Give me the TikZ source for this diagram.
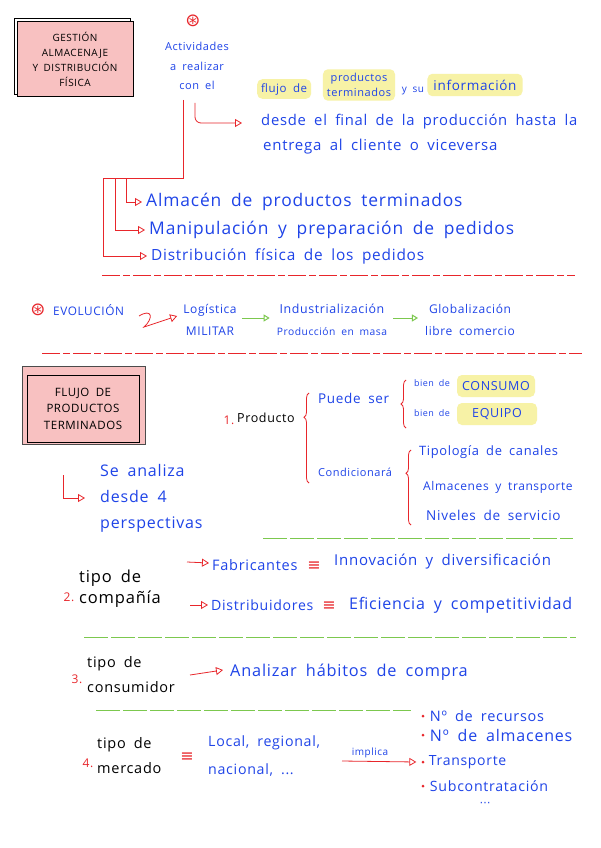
\documentclass[tikz,border=0pt]{standalone}
\usepackage{fontspec}
\setmainfont[LetterSpace=5,WordSpace=1.8]{Open Sans}
\newfontfamily\symfont{DejaVu Sans}
\definecolor{Ink}{HTML}{1F44E8}
\definecolor{Pen}{HTML}{E8262B}
\definecolor{Leaf}{HTML}{7CC84E}
\definecolor{Marker}{HTML}{F7F2A6}
\definecolor{Blush}{HTML}{F8C1C1}
\usetikzlibrary{arrows.meta,positioning,decorations.pathreplacing}

\begin{document}
\begin{tikzpicture}[x=1pt,y=-1pt,
  fs/.style 2 args={font=\fontsize{#1}{#2}\selectfont},
  note/.style={text=Ink,inner sep=1pt},
  hand/.style={text=black,inner sep=1pt},
  num/.style={text=Pen,inner sep=1pt,fs={12}{14}},
  hilite/.style={fill=Marker,rounded corners=5pt,inner sep=4pt},
  titlebox/.style={draw=black,line width=1pt,fill=Blush,align=center},
  penline/.style={draw=Pen,line width=.8pt},
  penarrow/.style={penline,-{Triangle[open,length=7pt,width=8pt]}},
  leafarrow/.style={draw=Leaf,line width=1pt,-{Triangle[open,length=6pt,width=7pt]}},
  redcut/.style={draw=Pen,line width=.6pt,dash pattern=on 18pt off 3pt on 7pt off 3pt},
  greencut/.style={draw=Leaf,line width=1pt,dash pattern=on 24pt off 3pt},
  bracepen/.style={penline,decorate,decoration={brace,amplitude=5pt,aspect=#1}},
  dotpen/.style={circle,fill=Pen,inner sep=0pt,minimum size=3pt},
  same/.style={text=Pen,font=\symfont\fontsize{16}{16}\selectfont,inner sep=0pt},
  asterisk/.style={text=Pen,font=\symfont\fontsize{18}{18}\selectfont,inner sep=0pt}
]
\useasboundingbox[fill=white] (0,0) rectangle (600,848);

\draw[line width=1pt] (14,19) rectangle (130,95);
\node[titlebox,fs={10}{15},minimum width=116pt,minimum height=75pt] (gestion) at (75,59.5)
  {GESTIÓN\\ALMACENAJE\\Y DISTRIBUCIÓN\\FÍSICA};
\node[asterisk] (star1) at (193,21) {⊛};
\node[note,fs={11}{19.5},align=center] (activ) at (197,66) {Actividades\\a realizar\\con el};

\node[note,hilite,fs={11.5}{14},anchor=west] (flujo) at (257,89) {flujo de};
\node[note,hilite,fs={11}{15},align=center] (prodterm) at (359,85) {productos\\terminados};
\node[note,fs={10}{12}] (ysu) at (413,91) {y su};
\node[note,hilite,fs={13.5}{16},inner sep=6pt] (info) at (475,85) {información};
\node[note,fs={14.8}{16},anchor=west] (desde) at (260,122) {desde el final de la producción hasta la};
\node[note,fs={15}{16},anchor=west] (entrega) at (262,147) {entrega al cliente o viceversa};

\coordinate (drop) at (183,100);
\coordinate (fork) at (183,178);
\coordinate (b1) at (126,178);
\coordinate (b2) at (115,178);
\coordinate (b3) at (103,178);
\coordinate (hook) at (195,103);
\draw[penline] (drop) -- (fork) -- (b3);
\draw[penarrow,rounded corners=6pt] (hook) |- ([xshift=-18pt,yshift=-1pt]desde.west);

\node[note,fs={17.4}{18},anchor=west] (almacen) at (145,202) {Almacén de productos terminados};
\node[note,fs={17.4}{18},anchor=west] (manip) at (148,230) {Manipulación y preparación de pedidos};
\node[note,fs={15.4}{18},anchor=west] (distrib) at (150,256) {Distribución física de los pedidos};
\draw[penarrow] (b1) |- ([xshift=-3pt]almacen.west);
\draw[penarrow] (b2) |- ([xshift=-3pt]manip.west);
\draw[penarrow] (b3) |- ([xshift=-3pt]distrib.west);

\coordinate (cut1a) at (102,275);
\coordinate (cut1b) at (575,275);
\draw[redcut] (cut1a) -- (cut1b);

\node[asterisk] (star2) at (38,310) {⊛};
\node[note,fs={11.8}{14},anchor=west] (evol) at (52,310) {EVOLUCIÓN};
\node[note,fs={12}{22},align=center] (logis) at (210,320) {Logística\\MILITAR};
\node[note,fs={10.3}{22},align=center] (indus) at (332,320) {{\fontsize{12.4}{22}\selectfont Industrialización}\\Producción en masa};
\node[note,fs={12}{22},align=center] (glob) at (470,320) {Globalización\\libre comercio};
\coordinate (zig) at (139,316);
\draw[penarrow] (zig) .. controls (152,308) and (154,318) .. (144,327) -- ([xshift=-5pt,yshift=4pt]logis.west);
\draw[leafarrow] ([xshift=4pt,yshift=2pt]logis.east) -- ([xshift=-6pt,yshift=2pt]indus.west);
\draw[leafarrow] ([xshift=5pt,yshift=2pt]indus.east) -- ([xshift=-6pt,yshift=2pt]glob.west);

\coordinate (cut2a) at (42,353);
\coordinate (cut2b) at (582,353);
\draw[redcut] (cut2a) -- (cut2b);

\draw[draw=black!70,fill=Blush,line width=.6pt] (22,366) rectangle (145,444);
\node[draw=black,line width=1pt,align=center,fs={11.5}{16.5},minimum width=112pt,minimum height=67pt] (flujobox) at (83,408.5)
  {FLUJO DE\\PRODUCTOS\\TERMINADOS};

\node[num] (n1) at (229,420) {1.};
\node[hand,fs={12.5}{14},anchor=west] (producto) at (236,418) {Producto};
\draw[bracepen=.73] (309,483) -- (309,393);
\node[note,fs={13.5}{14},anchor=west] (puede) at (317,398) {Puede ser};
\draw[bracepen=.5] (406,428) -- (406,380);
\node[note,fs={9}{12},anchor=west] (bien1) at (413,383) {bien de};
\node[note,hilite,fs={12.5}{14},minimum width=78pt,minimum height=22pt] (consumo) at (496,386) {CONSUMO};
\node[note,fs={9}{12},anchor=west] (bien2) at (413,413) {bien de};
\node[note,hilite,fs={12.5}{14},minimum width=80pt,minimum height=22pt] (equipo) at (497,414) {EQUIPO};
\node[note,fs={11}{14},anchor=west] (condic) at (317,472) {Condicionará};
\draw[bracepen=.69] (411,525) -- (411,450);
\node[note,fs={12.9}{14},anchor=west] (tipolog) at (418,452) {Tipología de canales};
\node[note,fs={12}{14},anchor=west] (almtrans) at (422,487) {Almacenes y transporte};
\node[note,fs={13.6}{14},anchor=west] (niveles) at (425,515) {Niveles de servicio};

\node[note,fs={16}{26},align=left,anchor=west] (analiza) at (99,498) {Se analiza\\desde 4\\perspectivas};
\coordinate (hook2) at (63,475);
\draw[penarrow] (hook2) |- ([xshift=-14pt]analiza.west);

\coordinate (cut3a) at (263,538);
\coordinate (cut3b) at (573,538);
\draw[greencut] (cut3a) -- (cut3b);

\node[num] (n2) at (69,597) {2.};
\node[hand,fs={16.5}{21},align=left,anchor=west] (compania) at (78,589) {tipo de\\compañía};
\node[note,fs={14.5}{15},anchor=west] (fabric) at (211,565) {Fabricantes};
\node[same] (eq1) at (314,566) {≡};
\node[note,fs={15}{15},anchor=west] (innov) at (333,562) {Innovación y diversificación};
\node[note,fs={14.1}{15},anchor=west] (distri) at (210,605) {Distribuidores};
\node[same] (eq2) at (329,606) {≡};
\node[note,fs={16}{15},anchor=west] (efic) at (348,605) {Eficiencia y competitividad};
\draw[penarrow] ([xshift=-24pt,yshift=3pt]fabric.west) -- ([xshift=-2pt,yshift=2pt]fabric.west);
\draw[penarrow] ([xshift=-20pt]distri.west) -- ([xshift=-2pt]distri.west);

\coordinate (cut4a) at (84,637);
\coordinate (cut4b) at (576,637);
\draw[greencut] (cut4a) -- (cut4b);

\node[num] (n3) at (77,679) {3.};
\node[hand,fs={14.5}{25},align=left,anchor=west] (consum) at (86,675) {tipo de\\consumidor};
\node[note,fs={16.3}{17},anchor=west] (habitos) at (229,672) {Analizar hábitos de compra};
\draw[penarrow] ([xshift=14pt]consum.east) -- ([xshift=-6pt,yshift=2pt]habitos.west);

\coordinate (cut5a) at (96,710);
\coordinate (cut5b) at (411,710);
\draw[greencut] (cut5a) -- (cut5b);

\node[num] (n4) at (88,763) {4.};
\node[hand,fs={14.5}{25},align=left,anchor=west] (mercado) at (96,756) {tipo de\\mercado};
\node[same] (eq3) at (187,757) {≡};
\node[note,fs={14.2}{28},align=left,anchor=west] (local) at (207,756) {Local, regional,\\nacional, ...};
\node[note,fs={10}{12}] (implica) at (370,753) {implica};
\node[dotpen] (d1) at (423,716) {};
\node[note,fs={14.5}{15},right=4pt of d1] (recursos) {Nº de recursos};
\node[dotpen] (d2) at (423,735) {};
\node[note,fs={16}{15},right=4pt of d2] (almac) {Nº de almacenes};
\node[dotpen] (d3) at (423,762) {};
\node[note,fs={14}{15},right=3pt of d3] (transp) {Transporte};
\node[dotpen] (d4) at (423,786) {};
\node[note,fs={14.2}{15},right=4pt of d4] (subcon) {Subcontratación};
\node[text=Ink,inner sep=0pt,font=\symfont\fontsize{11}{11}\selectfont] (etc) at (485,804) {⋯};
\coordinate (impl0) at (342,761);
\draw[penarrow] (impl0) -- ([xshift=-5pt]d3.west);
\end{tikzpicture}
\end{document}
